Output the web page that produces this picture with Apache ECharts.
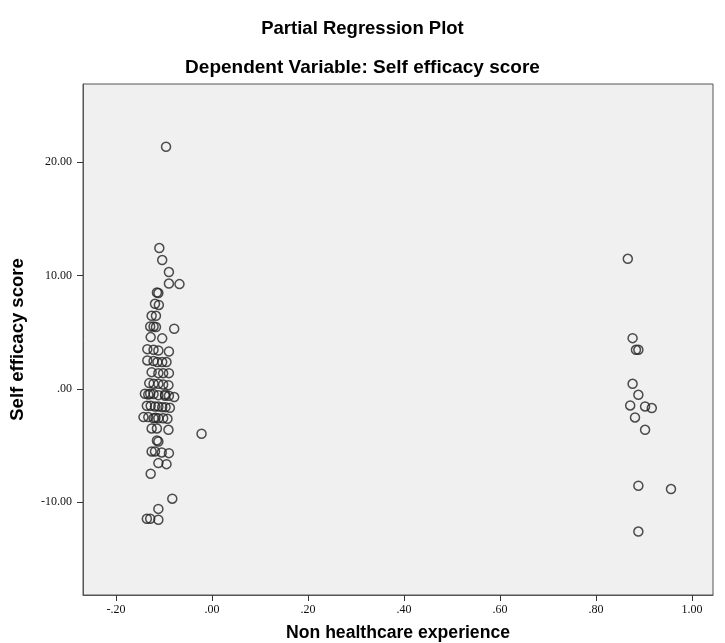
<!DOCTYPE html>
<html>
<head>
<meta charset="utf-8">
<script src="https://cdn.jsdelivr.net/npm/echarts@6/dist/echarts.min.js"></script>
<style>html,body{margin:0;padding:0;background:#fff}#c{width:725px;height:643px}</style>
</head>
<body>
<div id="c"></div>
<script>
var chartTitle = 'Partial Regression Plot';
var chartSubtitle = 'Dependent Variable: Self efficacy score';
var xAxisName = 'Non healthcare experience';
var yAxisName = 'Self efficacy score';
var xTicks = [-0.2, 0, 0.2, 0.4, 0.6, 0.8, 1.0];
var xTickLabels = ['-.20', '.00', '.20', '.40', '.60', '.80', '1.00'];
var yTicks = [-10, 0, 10, 20];
var yTickLabels = ['-10.00', '.00', '10.00', '20.00'];

var leftX = [-0.096,-0.110,-0.104,-0.090,-0.090,-0.068,-0.115,-0.112,-0.119,-0.111,
  -0.126,-0.117,-0.129,-0.122,-0.117,-0.079,-0.128,-0.104,-0.135,-0.122,
  -0.112,-0.090,-0.135,-0.114,-0.104,-0.095,-0.126,-0.112,-0.102,-0.090,
  -0.131,-0.112,-0.102,-0.091,-0.122,-0.140,-0.129,-0.122,-0.112,-0.098,
  -0.090,-0.079,-0.133,-0.136,-0.128,-0.119,-0.112,-0.104,-0.097,-0.088,
  -0.143,-0.133,-0.122,-0.112,-0.102,-0.093,-0.126,-0.115,-0.091,-0.022,
  -0.115,-0.112,-0.126,-0.119,-0.105,-0.090,-0.112,-0.095,-0.128,-0.083,
  -0.112,-0.136,-0.129,-0.112,-0.122,-0.098,-0.118];
var leftY = [21.36,12.42,11.36,10.30,9.29,9.24,8.50,8.45,7.50,7.40,
  6.44,6.44,5.50,5.50,5.45,5.30,4.56,4.45,3.50,3.44,
  3.38,3.29,2.50,2.36,2.36,2.36,1.47,1.38,1.38,1.38,
  0.50,0.44,0.38,0.32,0.45,-0.44,-0.44,-0.47,-0.56,-0.62,
  -0.62,-0.73,-0.50,-1.50,-1.50,-1.56,-1.56,-1.62,-1.62,-1.68,
  -2.50,-2.50,-2.60,-2.60,-2.60,-2.65,-3.50,-3.50,-3.62,-3.97,
  -4.56,-4.65,-5.53,-5.53,-5.62,-5.68,-6.56,-6.65,-7.50,-9.70,
  -10.60,-11.47,-11.47,-11.56,2.45,-0.50,-2.55];
var rightX = [0.866,0.876,0.883,0.888,0.876,0.888,0.871,0.902,0.916,0.881,0.902,0.888,0.956,0.888];
var rightY = [11.47,4.47,3.44,3.44,0.44,-0.53,-1.47,-1.56,-1.70,-2.53,-3.62,-8.56,-8.85,-12.60];

function pairs(xs, ys) { var out = []; for (var i = 0; i < xs.length; i++) out.push([xs[i], ys[i]]); return out; }
function fmt(vals, labs) { return function (v) { for (var i = 0; i < vals.length; i++) if (Math.abs(vals[i] - v) < 1e-6) return labs[i]; return ''; }; }

var labelFont = { fontFamily: 'Liberation Serif', fontSize: 12, color: '#111' };
var boldFont = { fontFamily: 'Liberation Sans', fontWeight: 'bold', fontSize: 18, color: '#000' };
var markerStyle = { color: 'rgba(0,0,0,0)', borderColor: '#222', borderWidth: 1.5 };
var chart = echarts.init(document.getElementById('c'), null, { renderer: 'canvas' });
chart.setOption({
  animation: false,
  backgroundColor: '#fff',
  title: [
    { text: chartTitle, left: 'center', top: 14, textStyle: Object.assign({}, boldFont, { fontSize: 18.5 }) },
    { text: chartSubtitle, left: 'center', top: 53, textStyle: Object.assign({}, boldFont, { fontSize: 19 }) }
  ],
  grid: { left: 83, right: 12, top: 84, bottom: 48, containLabel: false, outerBoundsMode: 'none', show: true, backgroundColor: '#f0f0f0', borderColor: '#555', borderWidth: 1 },
  xAxis: {
    type: 'value', min: -0.269, max: 1.0435,
    name: xAxisName, nameLocation: 'middle', nameGap: 29,
    nameTextStyle: Object.assign({}, boldFont, { fontSize: 17.6 }),
    axisLine: { show: true, onZero: false, lineStyle: { color: '#555' } },
    axisTick: { show: true, inside: false, length: 6, customValues: xTicks, lineStyle: { color: '#333' } },
    axisLabel: Object.assign({ customValues: xTicks, formatter: fmt(xTicks, xTickLabels), margin: 9 }, labelFont),
    splitLine: { show: false }
  },
  yAxis: {
    type: 'value', min: -18.2, max: 26.9,
    name: yAxisName, nameLocation: 'middle', nameGap: 56, nameRotate: 90,
    nameTextStyle: Object.assign({}, boldFont, { fontSize: 18.5 }),
    axisLine: { show: true, onZero: false, lineStyle: { color: '#555' } },
    axisTick: { show: true, inside: false, length: 6, customValues: yTicks, lineStyle: { color: '#333' } },
    axisLabel: Object.assign({ customValues: yTicks, formatter: fmt(yTicks, yTickLabels), margin: 11 }, labelFont),
    splitLine: { show: false }
  },
  series: [
    { type: 'scatter', data: pairs(leftX, leftY), symbol: 'circle', symbolSize: 9, itemStyle: markerStyle },
    { type: 'scatter', data: pairs(rightX, rightY), symbol: 'circle', symbolSize: 9, itemStyle: markerStyle }
  ]
});
</script>
</body>
</html>
